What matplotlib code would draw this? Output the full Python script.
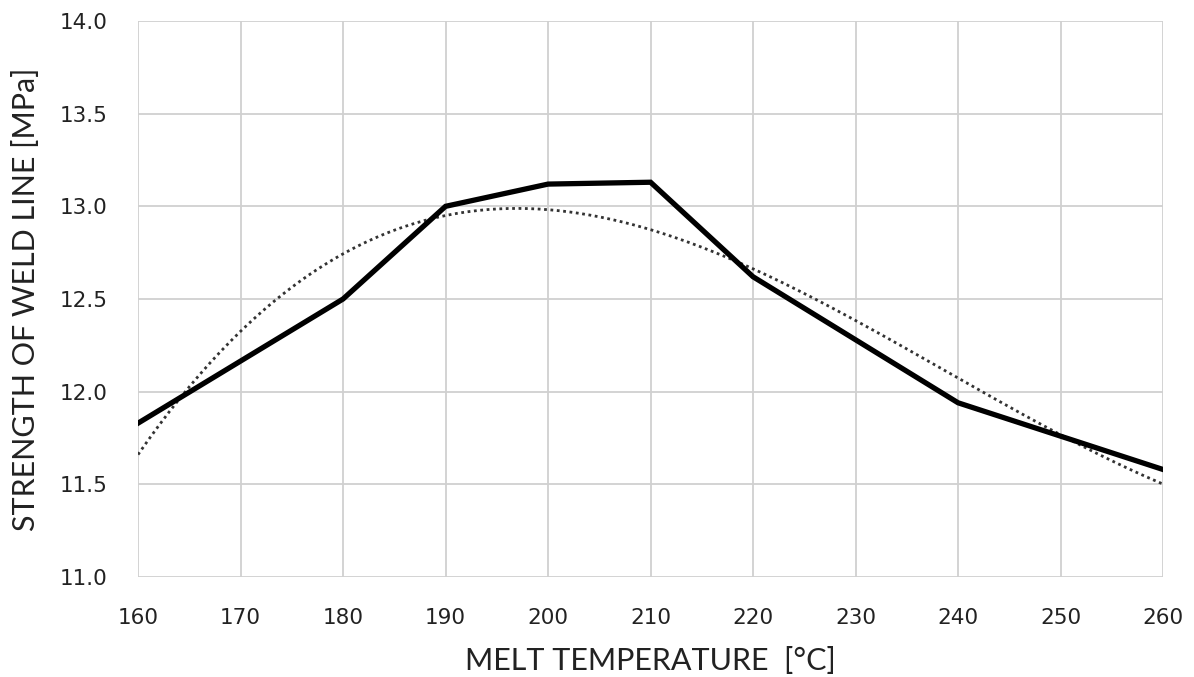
import numpy as np
import matplotlib
matplotlib.use("Agg")
import matplotlib.pyplot as plt

plt.rcParams['font.family'] = ['Lato', 'DejaVu Sans']

temps = [160, 170, 180, 190, 200, 210, 220, 230, 240, 250, 260]
strength = [11.83, 12.165, 12.50, 13.00, 13.12, 13.13, 12.62, 12.28, 11.94, 11.76, 11.58]
x_ticks = [160, 170, 180, 190, 200, 210, 220, 230, 240, 250, 260]
y_ticks = [11.0, 11.5, 12.0, 12.5, 13.0, 13.5, 14.0]

fig = plt.figure(figsize=(11.94, 6.77), dpi=100)
ax = fig.add_axes([0.1156, 0.1477, 0.8585, 0.8213])

# cubic polynomial trendline fitted to the data (as in the spreadsheet trendline)
coef = np.polyfit(temps, strength, 3)
xs = np.linspace(min(temps), max(temps), 300)
ax.plot(xs, np.polyval(coef, xs), color='#333333', lw=2.0, linestyle=(0, (1, 1.3)), zorder=3)
ax.plot(temps, strength, color='black', lw=3.8, solid_joinstyle='miter', zorder=4)

ax.set_xlim(160, 260)
ax.set_ylim(11.0, 14.0)
ax.set_xticks(x_ticks)
ax.set_yticks(y_ticks)
ax.set_yticklabels([f"{v:.1f}" for v in y_ticks])
ax.grid(True, color='#d0d0d0', lw=1.3)
ax.set_axisbelow(True)
for s in ax.spines.values():
    s.set_visible(False)
ax.tick_params(length=0, labelsize=15.5, pad=22, colors='#222222')
for lab in ax.get_xticklabels() + ax.get_yticklabels():
    lab.set_fontfamily('DejaVu Sans')
ax.set_xlabel("MELT TEMPERATURE  [°C]", fontsize=22, labelpad=14, color='#222222')
ax.set_ylabel("STRENGTH OF WELD LINE [MPa]", fontsize=22, labelpad=14, color='#222222')

fig.savefig("out.png", dpi=100)
